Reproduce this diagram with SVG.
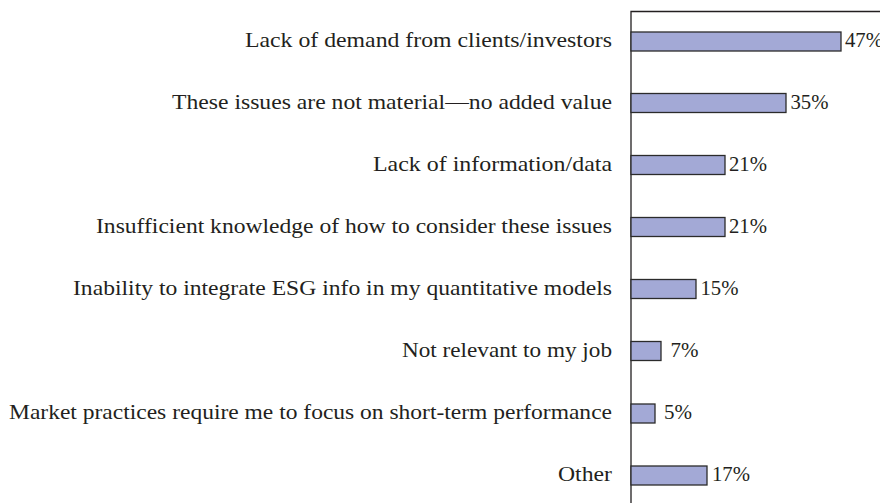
<svg xmlns="http://www.w3.org/2000/svg" width="880" height="503" viewBox="0 0 880 503">
<style>
.lbl{font-family:"Liberation Serif","Times New Roman",serif;font-size:21px;fill:#231f20;text-anchor:end}
.pct{font-family:"Liberation Serif","Times New Roman",serif;font-size:21px;fill:#231f20}
.bar{fill:#a3a9d6;stroke:#2b2b2b;stroke-width:1.3}
.axis{fill:none;stroke:#231f20;stroke-width:1.3}
</style>
<rect width="880" height="503" fill="#fff"/>
<g id="axes">
<path class="axis" d="M631,503 V11.5 H880"/>
</g>
<g id="row1"><text class="lbl" x="612" y="47" textLength="367" lengthAdjust="spacingAndGlyphs">Lack of demand from clients/investors</text><rect class="bar" x="631" y="32" width="210" height="19"/><text class="pct" x="845" y="47" textLength="38" lengthAdjust="spacingAndGlyphs">47%</text></g>
<g id="row2"><text class="lbl" x="612" y="109" textLength="440" lengthAdjust="spacingAndGlyphs">These issues are not material—no added value</text><rect class="bar" x="631" y="93.5" width="155" height="19"/><text class="pct" x="790.5" y="109" textLength="38" lengthAdjust="spacingAndGlyphs">35%</text></g>
<g id="row3"><text class="lbl" x="612" y="171" textLength="239" lengthAdjust="spacingAndGlyphs">Lack of information/data</text><rect class="bar" x="631" y="155.5" width="94" height="19"/><text class="pct" x="729" y="171" textLength="38" lengthAdjust="spacingAndGlyphs">21%</text></g>
<g id="row4"><text class="lbl" x="612" y="233" textLength="516" lengthAdjust="spacingAndGlyphs">Insufficient knowledge of how to consider these issues</text><rect class="bar" x="631" y="217.5" width="94" height="19"/><text class="pct" x="729" y="233" textLength="38" lengthAdjust="spacingAndGlyphs">21%</text></g>
<g id="row5"><text class="lbl" x="612" y="295" textLength="539" lengthAdjust="spacingAndGlyphs">Inability to integrate ESG info in my quantitative models</text><rect class="bar" x="631" y="279.5" width="65" height="19"/><text class="pct" x="700.5" y="295" textLength="38" lengthAdjust="spacingAndGlyphs">15%</text></g>
<g id="row6"><text class="lbl" x="612" y="357" textLength="210" lengthAdjust="spacingAndGlyphs">Not relevant to my job</text><rect class="bar" x="631" y="341.5" width="30" height="19"/><text class="pct" x="670.5" y="357" textLength="28" lengthAdjust="spacingAndGlyphs">7%</text></g>
<g id="row7"><text class="lbl" x="612" y="419" textLength="603" lengthAdjust="spacingAndGlyphs">Market practices require me to focus on short-term performance</text><rect class="bar" x="631" y="404" width="24" height="19"/><text class="pct" x="664" y="419" textLength="28" lengthAdjust="spacingAndGlyphs">5%</text></g>
<g id="row8"><text class="lbl" x="612" y="481" textLength="54" lengthAdjust="spacingAndGlyphs">Other</text><rect class="bar" x="631" y="466" width="76" height="19"/><text class="pct" x="712" y="481" textLength="38" lengthAdjust="spacingAndGlyphs">17%</text></g>
</svg>
